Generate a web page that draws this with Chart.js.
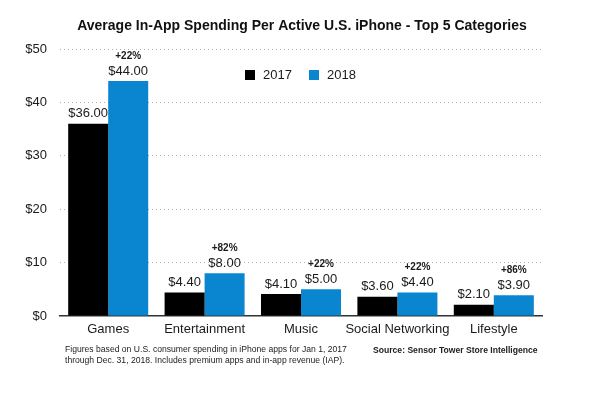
<!DOCTYPE html>
<html>
<head>
<meta charset="utf-8">
<script src="https://cdn.jsdelivr.net/npm/chart.js@4/dist/chart.umd.min.js"></script>
<style>
  html, body { margin: 0; padding: 0; background: #fff; }
  #wrap { width: 600px; height: 406px; position: relative; }
</style>
</head>
<body>
<div id="wrap"><canvas id="c" width="600" height="406"></canvas></div>
<script>
const categories = ["Games", "Entertainment", "Music", "Social Networking", "Lifestyle"];
const values2017 = [36.00, 4.40, 4.10, 3.60, 2.10];
const values2018 = [44.00, 8.00, 5.00, 4.40, 3.90];
const growthLabels = ["+22%", "+82%", "+22%", "+22%", "+86%"];
const seriesNames = ["2017", "2018"];
const titleText = "Average In-App Spending Per Active U.S. iPhone - Top 5 Categories";
const noteLines = [
  "Figures based on U.S. consumer spending in iPhone apps for Jan 1, 2017",
  "through Dec. 31, 2018. Includes premium apps and in-app revenue (IAP)."
];
const sourceText = "Source: Sensor Tower Store Intelligence";

const FONT = "'Liberation Sans', Arial, Helvetica, sans-serif";
const C2017 = "#000000";
const C2018 = "#0a86d0";

const extrasPlugin = {
  id: "extras",
  afterDatasetsDraw(chart) {
    const ctx = chart.ctx;
    ctx.save();
    ctx.textAlign = "center";
    ctx.textBaseline = "middle";
    chart.data.datasets.forEach((ds, di) => {
      const meta = chart.getDatasetMeta(di);
      meta.data.forEach((bar, i) => {
        ctx.fillStyle = "#1a1a1a";
        ctx.font = "13px " + FONT;
        ctx.fillText("$" + ds.data[i].toFixed(2), bar.x, bar.y - 10);
        if (di === 1) {
          ctx.font = "bold 10px " + FONT;
          ctx.fillText(growthLabels[i], bar.x, bar.y - 25);
        }
      });
    });
    ctx.restore();
  },
  afterDraw(chart) {
    const ctx = chart.ctx;
    ctx.save();
    // title
    ctx.fillStyle = "#111";
    ctx.textAlign = "center";
    ctx.textBaseline = "middle";
    ctx.font = "bold 14px " + FONT;
    ctx.fillText(titleText, 302, 26);
    // legend
    const legendItems = [
      { x: 245, color: C2017, label: seriesNames[0] },
      { x: 309, color: C2018, label: seriesNames[1] }
    ];
    ctx.textAlign = "left";
    ctx.font = "13px " + FONT;
    legendItems.forEach(it => {
      ctx.fillStyle = it.color;
      ctx.fillRect(it.x, 70, 10, 10);
      ctx.fillStyle = "#1a1a1a";
      ctx.fillText(it.label, it.x + 18, 75.5);
    });
    // footnote
    ctx.fillStyle = "#222";
    ctx.font = "8.6px " + FONT;
    ctx.fillText(noteLines[0], 65, 350);
    ctx.fillText(noteLines[1], 65, 361);
    ctx.font = "bold 8.6px " + FONT;
    ctx.fillText(sourceText, 373, 351);
    ctx.restore();
  }
};

new Chart(document.getElementById("c"), {
  type: "bar",
  data: {
    labels: categories,
    datasets: [
      { label: seriesNames[0], data: values2017, backgroundColor: C2017, borderWidth: 0 },
      { label: seriesNames[1], data: values2018, backgroundColor: C2018, borderWidth: 0 }
    ]
  },
  options: {
    responsive: false,
    animation: false,
    devicePixelRatio: 1,
    layout: { padding: { top: 49, right: 58, bottom: 0, left: 0 } },
    datasets: { bar: { categoryPercentage: 0.83, barPercentage: 1.0 } },
    plugins: {
      legend: { display: false },
      title: { display: false },
      tooltip: { enabled: false }
    },
    scales: {
      x: {
        grid: { display: false, drawTicks: false },
        border: { display: true, color: "#333", width: 1.5 },
        ticks: { color: "#1a1a1a", font: { family: FONT, size: 13 }, padding: 6, maxRotation: 0, autoSkip: false },
        afterFit(scale) { scale.height = 90; }
      },
      y: {
        min: 0,
        max: 50,
        ticks: {
          stepSize: 10,
          color: "#1a1a1a",
          font: { family: FONT, size: 13 },
          padding: 13,
          callback: v => "$" + v
        },
        grid: {
          drawTicks: false,
          color: ctx => (ctx.tick && ctx.tick.value === 0) ? "rgba(0,0,0,0)" : "#b0b0b0",
          lineWidth: 1
        },
        border: { display: false, dash: [1, 3] },
        afterFit(scale) { scale.width = 60; }
      }
    }
  },
  plugins: [extrasPlugin]
});
</script>
</body>
</html>
